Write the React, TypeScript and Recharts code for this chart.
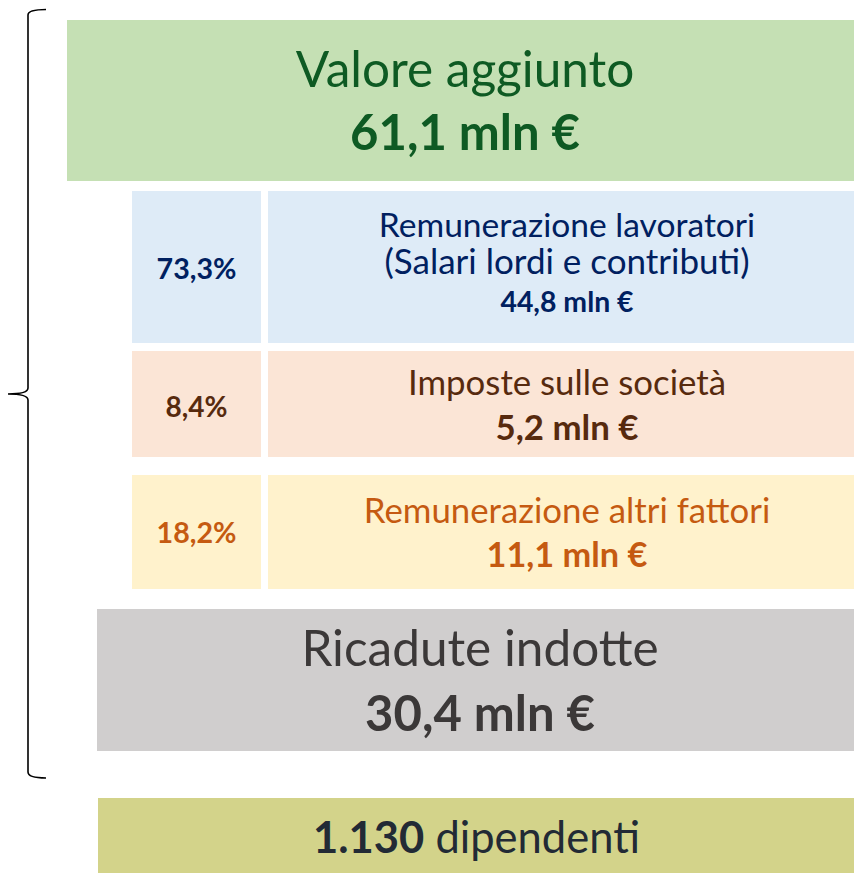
import React from "react";
import { ComposedChart, XAxis, YAxis, ReferenceArea, Customized } from "recharts";

// values
const blocks = ["Valore aggiunto", "Remunerazione lavoratori", "Imposte sulle società", "Remunerazione altri fattori", "Ricadute indotte"];
const notes = ["", "(Salari lordi e contributi)", "", "", ""];
const amounts = [61.1, 44.8, 5.2, 11.1, 30.4]; // mln €
const shares = [null, 73.3, 8.4, 18.2, null]; // % of valore aggiunto
const employees = 1130;
const employeesLabel = "dipendenti";
const unit = "mln €";

const W = 854;
const H = 873;
const FONT = "Lato, 'Open Sans', sans-serif";

// box geometry in page pixels, kept apart from the data
const layout = [
  { x1: 67, x2: 863, y1: 20, y2: 181, fill: "#C5E0B4", color: "#0E5A23", base: [67, 130], size: [49.5, 49] },
  { x1: 268, x2: 866, y1: 191, y2: 343, fill: "#DEEBF7", color: "#002060", base: [46, 83, 121], size: [33.6, 35, 28.4], share: 88, shareSize: 28.6 },
  { x1: 268, x2: 866, y1: 351, y2: 457, fill: "#FBE5D6", color: "#572A0E", base: [44, 89], size: [34.8, 34.8], share: 66, shareSize: 28 },
  { x1: 268, x2: 866, y1: 475, y2: 589, fill: "#FFF2CC", color: "#C55A11", base: [48, 92], size: [34.8, 34.3], share: 68, shareSize: 28.6 },
  { x1: 97, x2: 863, y1: 609, y2: 751, fill: "#D0CECE", color: "#3B3838", base: [57, 122], size: [49.5, 49] },
];
const shareBox = { x1: 132, x2: 261 };
const staffBox = { x1: 98, x2: 855, y1: 798, y2: 873, fill: "#D3D38A", color: "#222A35", base: 55, size: 43.5 };

const fmt = (v: number) => v.toFixed(1).replace(".", ",");
const fmtInt = (v: number) => String(v).replace(/\B(?=(\d{3})+(?!\d))/g, ".");

type Line = { text: string; base: number; size: number; bold?: boolean };

function boxLabel(lines: Line[], color: string) {
  return (props: any) => {
    const vb = props.viewBox;
    const cx = vb.x + vb.width / 2;
    return (
      <g>
        {lines.map((l, i) => (
          <text
            key={i}
            x={cx}
            y={vb.y + l.base}
            textAnchor="middle"
            fontFamily={FONT}
            fontSize={l.size}
            fontWeight={l.bold ? 700 : 400}
            fill={color}
          >
            {l.text}
          </text>
        ))}
      </g>
    );
  };
}

function Bracket() {
  return (
    <path
      d="M46,9.5 Q28,9.5 28,15 L28,388 Q28,394 8,394 Q28,394 28,400 L28,772 Q28,778 46,778"
      fill="none"
      stroke="#000"
      strokeWidth={1.6}
    />
  );
}

export default function App() {
  return (
    <div style={{ width: W, height: H, background: "#fff" }}>
      <style>{"body{margin:0}"}</style>
      <ComposedChart width={W} height={H} data={[]} margin={{ top: 0, right: 0, bottom: 0, left: 0 }}>
        <XAxis type="number" dataKey="x" domain={[0, W]} allowDataOverflow hide />
        <YAxis type="number" dataKey="y" domain={[0, H]} allowDataOverflow reversed hide />
        {blocks.map((name, i) => {
          const g = layout[i];
          const lines: Line[] = [{ text: name, base: g.base[0], size: g.size[0] }];
          if (notes[i]) lines.push({ text: notes[i], base: g.base[1], size: g.size[1] });
          lines.push({ text: `${fmt(amounts[i])} ${unit}`, base: g.base[lines.length], size: g.size[lines.length], bold: true });
          return (
            <ReferenceArea
              key={name}
              x1={g.x1}
              x2={g.x2}
              y1={g.y1}
              y2={g.y2}
              fill={g.fill}
              fillOpacity={1}
              stroke="none"
              ifOverflow="visible"
              label={boxLabel(lines, g.color)}
            />
          );
        })}
        {shares.map((s, i) => {
          if (s == null) return null;
          const g = layout[i];
          return (
            <ReferenceArea
              key={"share" + i}
              x1={shareBox.x1}
              x2={shareBox.x2}
              y1={g.y1}
              y2={g.y2}
              fill={g.fill}
              fillOpacity={1}
              stroke="none"
              ifOverflow="visible"
              label={boxLabel([{ text: `${fmt(s)}%`, base: g.share as number, size: g.shareSize as number, bold: true }], g.color)}
            />
          );
        })}
        <ReferenceArea
          x1={staffBox.x1}
          x2={staffBox.x2}
          y1={staffBox.y1}
          y2={staffBox.y2}
          fill={staffBox.fill}
          fillOpacity={1}
          stroke="none"
          ifOverflow="visible"
          label={(props: any) => {
            const vb = props.viewBox;
            return (
              <text x={vb.x + vb.width / 2} y={vb.y + staffBox.base} textAnchor="middle" fontFamily={FONT} fontSize={staffBox.size} fill={staffBox.color}>
                <tspan fontWeight={700}>{fmtInt(employees)}</tspan>
                <tspan> {employeesLabel}</tspan>
              </text>
            );
          }}
        />
        <Customized component={Bracket} />
      </ComposedChart>
    </div>
  );
}
